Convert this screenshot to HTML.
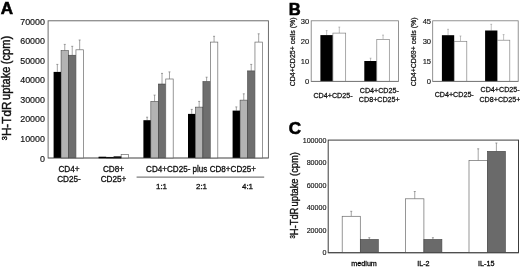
<!DOCTYPE html>
<html><head><meta charset="utf-8"><title>Figure</title>
<style>
html,body{margin:0;padding:0;background:#fff;}
body{width:520px;height:267px;overflow:hidden;}
svg{display:block;font-family:'Liberation Sans', sans-serif;transform:translateZ(0);will-change:transform;}
</style></head><body>
<svg width="520" height="267" viewBox="0 0 520 267">
<rect width="520" height="267" fill="#fff"/>
<text x="0.80" y="14.00" font-size="17" text-anchor="start" font-weight="bold" fill="#000" stroke="#000" stroke-width="0.61" >A</text>
<rect x="48.1" y="20.8" width="220.29999999999998" height="137.2" fill="none" stroke="#5c5c5c" stroke-width="0.9"/>
<text x="44.90" y="161.50" font-size="8.9" text-anchor="end" font-weight="normal" fill="#111" stroke="#111" stroke-width="0.16" >0</text>
<text x="44.90" y="141.95" font-size="8.9" text-anchor="end" font-weight="normal" fill="#111" stroke="#111" stroke-width="0.16" >10000</text>
<text x="44.90" y="122.40" font-size="8.9" text-anchor="end" font-weight="normal" fill="#111" stroke="#111" stroke-width="0.16" >20000</text>
<text x="44.90" y="102.85" font-size="8.9" text-anchor="end" font-weight="normal" fill="#111" stroke="#111" stroke-width="0.16" >30000</text>
<text x="44.90" y="83.30" font-size="8.9" text-anchor="end" font-weight="normal" fill="#111" stroke="#111" stroke-width="0.16" >40000</text>
<text x="44.90" y="63.75" font-size="8.9" text-anchor="end" font-weight="normal" fill="#111" stroke="#111" stroke-width="0.16" >50000</text>
<text x="44.90" y="44.20" font-size="8.9" text-anchor="end" font-weight="normal" fill="#111" stroke="#111" stroke-width="0.16" >60000</text>
<text x="44.90" y="24.65" font-size="8.9" text-anchor="end" font-weight="normal" fill="#111" stroke="#111" stroke-width="0.16" >70000</text>
<text transform="translate(10.50,140.20) rotate(-90) scale(1,1.04)" font-size="11.7" text-anchor="start" font-weight="normal" fill="#111" stroke="#111" stroke-width="0.42"><tspan font-size="7.4" dy="-3.4">3</tspan><tspan dy="3.4">H-TdR</tspan></text>
<text transform="translate(10.40,99.90) rotate(-90) scale(1,1.07)" font-size="11.1" text-anchor="start" font-weight="normal" fill="#111" stroke="#111" stroke-width="0.40">uptake</text>
<text transform="translate(10.40,64.20) rotate(-90) scale(1,1.07)" font-size="11.1" text-anchor="start" font-weight="normal" fill="#111" stroke="#111" stroke-width="0.40">(cpm)</text>
<line x1="57.33" y1="64.40" x2="57.33" y2="71.90" stroke="#666" stroke-width="0.6"/>
<line x1="56.33" y1="64.40" x2="58.33" y2="64.40" stroke="#666" stroke-width="0.6"/>
<rect x="53.60" y="71.90" width="7.45" height="86.10" fill="#000"/>
<line x1="64.78" y1="44.40" x2="64.78" y2="50.60" stroke="#666" stroke-width="0.6"/>
<line x1="63.78" y1="44.40" x2="65.78" y2="44.40" stroke="#666" stroke-width="0.6"/>
<rect x="61.05" y="50.60" width="7.45" height="107.40" fill="#b3b3b3" stroke="#333" stroke-width="0.5"/>
<line x1="72.22" y1="46.30" x2="72.22" y2="55.20" stroke="#666" stroke-width="0.6"/>
<line x1="71.22" y1="46.30" x2="73.22" y2="46.30" stroke="#666" stroke-width="0.6"/>
<rect x="68.50" y="55.20" width="7.45" height="102.80" fill="#6e6e6e" stroke="#333" stroke-width="0.5"/>
<line x1="79.67" y1="40.00" x2="79.67" y2="49.80" stroke="#666" stroke-width="0.6"/>
<line x1="78.67" y1="40.00" x2="80.67" y2="40.00" stroke="#666" stroke-width="0.6"/>
<rect x="75.95" y="49.80" width="7.45" height="108.20" fill="#fff" stroke="#6a6a6a" stroke-width="0.7"/>
<rect x="98.80" y="157.20" width="7.45" height="0.80" fill="#000"/>
<rect x="106.25" y="157.20" width="7.45" height="0.80" fill="#b3b3b3" stroke="#333" stroke-width="0.5"/>
<rect x="113.70" y="157.00" width="7.45" height="1.00" fill="#6e6e6e" stroke="#333" stroke-width="0.5"/>
<rect x="121.15" y="154.40" width="7.45" height="3.60" fill="#fff" stroke="#6a6a6a" stroke-width="0.7"/>
<line x1="147.12" y1="117.20" x2="147.12" y2="120.20" stroke="#666" stroke-width="0.6"/>
<line x1="146.12" y1="117.20" x2="148.12" y2="117.20" stroke="#666" stroke-width="0.6"/>
<rect x="143.40" y="120.20" width="7.45" height="37.80" fill="#000"/>
<line x1="154.57" y1="95.10" x2="154.57" y2="101.40" stroke="#666" stroke-width="0.6"/>
<line x1="153.57" y1="95.10" x2="155.57" y2="95.10" stroke="#666" stroke-width="0.6"/>
<rect x="150.85" y="101.40" width="7.45" height="56.60" fill="#b3b3b3" stroke="#333" stroke-width="0.5"/>
<line x1="162.03" y1="73.40" x2="162.03" y2="84.00" stroke="#666" stroke-width="0.6"/>
<line x1="161.03" y1="73.40" x2="163.03" y2="73.40" stroke="#666" stroke-width="0.6"/>
<rect x="158.30" y="84.00" width="7.45" height="74.00" fill="#6e6e6e" stroke="#333" stroke-width="0.5"/>
<line x1="169.47" y1="71.90" x2="169.47" y2="79.00" stroke="#666" stroke-width="0.6"/>
<line x1="168.47" y1="71.90" x2="170.47" y2="71.90" stroke="#666" stroke-width="0.6"/>
<rect x="165.75" y="79.00" width="7.45" height="79.00" fill="#fff" stroke="#6a6a6a" stroke-width="0.7"/>
<line x1="191.72" y1="109.40" x2="191.72" y2="113.90" stroke="#666" stroke-width="0.6"/>
<line x1="190.72" y1="109.40" x2="192.72" y2="109.40" stroke="#666" stroke-width="0.6"/>
<rect x="188.00" y="113.90" width="7.45" height="44.10" fill="#000"/>
<line x1="199.17" y1="101.40" x2="199.17" y2="107.10" stroke="#666" stroke-width="0.6"/>
<line x1="198.17" y1="101.40" x2="200.17" y2="101.40" stroke="#666" stroke-width="0.6"/>
<rect x="195.45" y="107.10" width="7.45" height="50.90" fill="#b3b3b3" stroke="#333" stroke-width="0.5"/>
<line x1="206.62" y1="77.20" x2="206.62" y2="81.50" stroke="#666" stroke-width="0.6"/>
<line x1="205.62" y1="77.20" x2="207.62" y2="77.20" stroke="#666" stroke-width="0.6"/>
<rect x="202.90" y="81.50" width="7.45" height="76.50" fill="#6e6e6e" stroke="#333" stroke-width="0.5"/>
<line x1="214.07" y1="36.30" x2="214.07" y2="42.10" stroke="#666" stroke-width="0.6"/>
<line x1="213.07" y1="36.30" x2="215.07" y2="36.30" stroke="#666" stroke-width="0.6"/>
<rect x="210.35" y="42.10" width="7.45" height="115.90" fill="#fff" stroke="#6a6a6a" stroke-width="0.7"/>
<line x1="236.32" y1="106.90" x2="236.32" y2="110.60" stroke="#666" stroke-width="0.6"/>
<line x1="235.32" y1="106.90" x2="237.32" y2="106.90" stroke="#666" stroke-width="0.6"/>
<rect x="232.60" y="110.60" width="7.45" height="47.40" fill="#000"/>
<line x1="243.77" y1="93.80" x2="243.77" y2="100.10" stroke="#666" stroke-width="0.6"/>
<line x1="242.77" y1="93.80" x2="244.77" y2="93.80" stroke="#666" stroke-width="0.6"/>
<rect x="240.05" y="100.10" width="7.45" height="57.90" fill="#b3b3b3" stroke="#333" stroke-width="0.5"/>
<line x1="251.22" y1="64.40" x2="251.22" y2="70.90" stroke="#666" stroke-width="0.6"/>
<line x1="250.22" y1="64.40" x2="252.22" y2="64.40" stroke="#666" stroke-width="0.6"/>
<rect x="247.50" y="70.90" width="7.45" height="87.10" fill="#6e6e6e" stroke="#333" stroke-width="0.5"/>
<line x1="258.68" y1="33.80" x2="258.68" y2="42.10" stroke="#666" stroke-width="0.6"/>
<line x1="257.68" y1="33.80" x2="259.68" y2="33.80" stroke="#666" stroke-width="0.6"/>
<rect x="254.95" y="42.10" width="7.45" height="115.90" fill="#fff" stroke="#6a6a6a" stroke-width="0.7"/>
<line x1="48.10" y1="158.00" x2="268.40" y2="158.00" stroke="#5c5c5c" stroke-width="0.5"/>
<rect x="98.60" y="156.70" width="7.60" height="1.60" fill="#000"/>
<rect x="106.20" y="157.00" width="7.60" height="1.30" fill="#111"/>
<rect x="113.80" y="156.40" width="7.50" height="1.90" fill="#111"/>
<text x="69.00" y="172.30" font-size="8.2" text-anchor="middle" font-weight="normal" fill="#111" stroke="#111" stroke-width="0.30" >CD4+</text>
<text x="69.00" y="181.60" font-size="8.2" text-anchor="middle" font-weight="normal" fill="#111" stroke="#111" stroke-width="0.30" >CD25-</text>
<text x="113.50" y="172.30" font-size="8.2" text-anchor="middle" font-weight="normal" fill="#111" stroke="#111" stroke-width="0.30" >CD8+</text>
<text x="113.50" y="181.60" font-size="8.2" text-anchor="middle" font-weight="normal" fill="#111" stroke="#111" stroke-width="0.30" >CD25+</text>
<text transform="translate(201,172.4) scale(1,1.14)" font-size="8.1" text-anchor="middle" fill="#111" stroke="#111" stroke-width="0.3">CD4+CD25- plus CD8+CD25+</text>
<line x1="136.60" y1="177.10" x2="264.20" y2="177.10" stroke="#333" stroke-width="0.8"/>
<text x="161.50" y="188.90" font-size="8.0" text-anchor="middle" font-weight="normal" fill="#111" stroke="#111" stroke-width="0.29" >1:1</text>
<text x="201.50" y="188.90" font-size="8.0" text-anchor="middle" font-weight="normal" fill="#111" stroke="#111" stroke-width="0.29" >2:1</text>
<text x="247.50" y="188.90" font-size="8.0" text-anchor="middle" font-weight="normal" fill="#111" stroke="#111" stroke-width="0.29" >4:1</text>
<text x="288.80" y="14.80" font-size="16.5" text-anchor="start" font-weight="bold" fill="#000" stroke="#000" stroke-width="0.59" >B</text>
<rect x="311.2" y="20.8" width="87.30000000000001" height="60.60000000000001" fill="none" stroke="#787878" stroke-width="0.8"/>
<text x="309.30" y="84.20" font-size="7.6" text-anchor="end" font-weight="normal" fill="#111" stroke="#111" stroke-width="0.14" >0</text>
<text x="309.30" y="64.00" font-size="7.6" text-anchor="end" font-weight="normal" fill="#111" stroke="#111" stroke-width="0.14" >10</text>
<text x="309.30" y="43.80" font-size="7.6" text-anchor="end" font-weight="normal" fill="#111" stroke="#111" stroke-width="0.14" >20</text>
<text x="309.30" y="23.60" font-size="7.6" text-anchor="end" font-weight="normal" fill="#111" stroke="#111" stroke-width="0.14" >30</text>
<text transform="translate(294.90,51.90) rotate(-90) scale(1,1)" font-size="7" text-anchor="middle" font-weight="normal" fill="#111" stroke="#111" stroke-width="0.25">CD4+CD25+ cells (%)</text>
<line x1="326.65" y1="30.60" x2="326.65" y2="35.10" stroke="#8c8c8c" stroke-width="0.55"/>
<line x1="325.75" y1="30.60" x2="327.55" y2="30.60" stroke="#8c8c8c" stroke-width="0.55"/>
<rect x="320.40" y="35.10" width="12.50" height="46.30" fill="#000"/>
<line x1="339.30" y1="27.10" x2="339.30" y2="33.10" stroke="#8c8c8c" stroke-width="0.55"/>
<line x1="338.40" y1="27.10" x2="340.20" y2="27.10" stroke="#8c8c8c" stroke-width="0.55"/>
<rect x="332.90" y="33.10" width="12.80" height="48.30" fill="#fff" stroke="#7c7c7c" stroke-width="0.65"/>
<line x1="370.55" y1="58.20" x2="370.55" y2="61.00" stroke="#8c8c8c" stroke-width="0.55"/>
<line x1="369.65" y1="58.20" x2="371.45" y2="58.20" stroke="#8c8c8c" stroke-width="0.55"/>
<rect x="364.30" y="61.00" width="12.50" height="20.40" fill="#000"/>
<line x1="383.05" y1="35.10" x2="383.05" y2="39.40" stroke="#8c8c8c" stroke-width="0.55"/>
<line x1="382.15" y1="35.10" x2="383.95" y2="35.10" stroke="#8c8c8c" stroke-width="0.55"/>
<rect x="376.80" y="39.40" width="12.50" height="42.00" fill="#fff" stroke="#7c7c7c" stroke-width="0.65"/>
<line x1="311.20" y1="81.40" x2="398.50" y2="81.40" stroke="#787878" stroke-width="0.9"/>
<text x="333.00" y="97.50" font-size="7.15" text-anchor="middle" font-weight="normal" fill="#111" stroke="#111" stroke-width="0.26" >CD4+CD25-</text>
<text x="379.30" y="92.70" font-size="7.15" text-anchor="middle" font-weight="normal" fill="#111" stroke="#111" stroke-width="0.26" >CD4+CD25-</text>
<text x="379.30" y="101.70" font-size="7.15" text-anchor="middle" font-weight="normal" fill="#111" stroke="#111" stroke-width="0.26" >CD8+CD25+</text>
<rect x="432.7" y="20.8" width="85.50000000000006" height="60.60000000000001" fill="none" stroke="#787878" stroke-width="0.8"/>
<text x="431.10" y="84.20" font-size="7.6" text-anchor="end" font-weight="normal" fill="#111" stroke="#111" stroke-width="0.14" >0</text>
<text x="431.10" y="64.00" font-size="7.6" text-anchor="end" font-weight="normal" fill="#111" stroke="#111" stroke-width="0.14" >15</text>
<text x="431.10" y="43.80" font-size="7.6" text-anchor="end" font-weight="normal" fill="#111" stroke="#111" stroke-width="0.14" >30</text>
<text x="431.10" y="23.60" font-size="7.6" text-anchor="end" font-weight="normal" fill="#111" stroke="#111" stroke-width="0.14" >45</text>
<text transform="translate(416.10,51.90) rotate(-90) scale(1,1)" font-size="7" text-anchor="middle" font-weight="normal" fill="#111" stroke="#111" stroke-width="0.25">CD4+CD69+ cells (%)</text>
<line x1="448.05" y1="29.30" x2="448.05" y2="35.20" stroke="#8c8c8c" stroke-width="0.55"/>
<line x1="447.15" y1="29.30" x2="448.95" y2="29.30" stroke="#8c8c8c" stroke-width="0.55"/>
<rect x="441.90" y="35.20" width="12.30" height="46.20" fill="#000"/>
<line x1="460.50" y1="36.00" x2="460.50" y2="41.30" stroke="#8c8c8c" stroke-width="0.55"/>
<line x1="459.60" y1="36.00" x2="461.40" y2="36.00" stroke="#8c8c8c" stroke-width="0.55"/>
<rect x="454.20" y="41.30" width="12.60" height="40.10" fill="#fff" stroke="#7c7c7c" stroke-width="0.65"/>
<line x1="491.25" y1="24.30" x2="491.25" y2="30.50" stroke="#8c8c8c" stroke-width="0.55"/>
<line x1="490.35" y1="24.30" x2="492.15" y2="24.30" stroke="#8c8c8c" stroke-width="0.55"/>
<rect x="485.10" y="30.50" width="12.30" height="50.90" fill="#000"/>
<line x1="503.60" y1="34.60" x2="503.60" y2="40.20" stroke="#8c8c8c" stroke-width="0.55"/>
<line x1="502.70" y1="34.60" x2="504.50" y2="34.60" stroke="#8c8c8c" stroke-width="0.55"/>
<rect x="497.40" y="40.20" width="12.40" height="41.20" fill="#fff" stroke="#7c7c7c" stroke-width="0.65"/>
<line x1="432.70" y1="81.40" x2="518.20" y2="81.40" stroke="#787878" stroke-width="0.9"/>
<text x="454.20" y="97.00" font-size="7.15" text-anchor="middle" font-weight="normal" fill="#111" stroke="#111" stroke-width="0.26" >CD4+CD25-</text>
<text x="500.10" y="92.30" font-size="7.15" text-anchor="middle" font-weight="normal" fill="#111" stroke="#111" stroke-width="0.26" >CD4+CD25-</text>
<text x="499.90" y="101.80" font-size="7.15" text-anchor="middle" font-weight="normal" fill="#111" stroke="#111" stroke-width="0.26" >CD8+CD25+</text>
<text x="288.80" y="134.00" font-size="17" text-anchor="start" font-weight="bold" fill="#000" stroke="#000" stroke-width="0.61" >C</text>
<rect x="328.2" y="140.1" width="190.3" height="112.6" fill="none" stroke="#3c3c3c" stroke-width="1"/>
<text x="326.50" y="255.30" font-size="7.15" text-anchor="end" font-weight="normal" fill="#111" stroke="#111" stroke-width="0.14" >0</text>
<text x="326.50" y="232.78" font-size="7.15" text-anchor="end" font-weight="normal" fill="#111" stroke="#111" stroke-width="0.14" >20000</text>
<text x="326.50" y="210.26" font-size="7.15" text-anchor="end" font-weight="normal" fill="#111" stroke="#111" stroke-width="0.14" >40000</text>
<text x="326.50" y="187.74" font-size="7.15" text-anchor="end" font-weight="normal" fill="#111" stroke="#111" stroke-width="0.14" >60000</text>
<text x="326.50" y="165.22" font-size="7.15" text-anchor="end" font-weight="normal" fill="#111" stroke="#111" stroke-width="0.14" >80000</text>
<text x="326.50" y="142.70" font-size="7.15" text-anchor="end" font-weight="normal" fill="#111" stroke="#111" stroke-width="0.14" >100000</text>
<text transform="translate(297.50,238.60) rotate(-90) scale(1,1.1)" font-size="9.4" text-anchor="start" font-weight="normal" fill="#111" stroke="#111" stroke-width="0.34"><tspan font-size="6" dy="-2.7">3</tspan><tspan dy="2.7">H-TdR</tspan></text>
<text transform="translate(297.50,152.20) rotate(-90) scale(1,1.1)" font-size="9.3" text-anchor="end" font-weight="normal" fill="#111" stroke="#111" stroke-width="0.33">uptake (cpm)</text>
<line x1="351.25" y1="211.30" x2="351.25" y2="216.30" stroke="#666" stroke-width="0.6"/>
<line x1="350.25" y1="211.30" x2="352.25" y2="211.30" stroke="#666" stroke-width="0.6"/>
<rect x="342.20" y="216.30" width="18.10" height="36.40" fill="#fff" stroke="#6a6a6a" stroke-width="0.7"/>
<line x1="369.30" y1="237.70" x2="369.30" y2="239.40" stroke="#666" stroke-width="0.6"/>
<line x1="368.30" y1="237.70" x2="370.30" y2="237.70" stroke="#666" stroke-width="0.6"/>
<rect x="360.30" y="239.40" width="18.00" height="13.30" fill="#6a6a6a" stroke="#444" stroke-width="0.6"/>
<line x1="414.75" y1="191.50" x2="414.75" y2="198.80" stroke="#666" stroke-width="0.6"/>
<line x1="413.75" y1="191.50" x2="415.75" y2="191.50" stroke="#666" stroke-width="0.6"/>
<rect x="405.60" y="198.80" width="18.30" height="53.90" fill="#fff" stroke="#6a6a6a" stroke-width="0.7"/>
<line x1="432.90" y1="237.70" x2="432.90" y2="239.40" stroke="#666" stroke-width="0.6"/>
<line x1="431.90" y1="237.70" x2="433.90" y2="237.70" stroke="#666" stroke-width="0.6"/>
<rect x="423.90" y="239.40" width="18.00" height="13.30" fill="#6a6a6a" stroke="#444" stroke-width="0.6"/>
<line x1="478.20" y1="148.80" x2="478.20" y2="160.60" stroke="#666" stroke-width="0.6"/>
<line x1="477.20" y1="148.80" x2="479.20" y2="148.80" stroke="#666" stroke-width="0.6"/>
<rect x="469.00" y="160.60" width="18.40" height="92.10" fill="#fff" stroke="#6a6a6a" stroke-width="0.7"/>
<line x1="496.40" y1="143.00" x2="496.40" y2="151.30" stroke="#666" stroke-width="0.6"/>
<line x1="495.40" y1="143.00" x2="497.40" y2="143.00" stroke="#666" stroke-width="0.6"/>
<rect x="487.40" y="151.30" width="18.00" height="101.40" fill="#6a6a6a" stroke="#444" stroke-width="0.6"/>
<line x1="328.20" y1="252.70" x2="518.50" y2="252.70" stroke="#4a4a4a" stroke-width="1"/>
<text x="364.10" y="265.90" font-size="7.2" text-anchor="middle" font-weight="normal" fill="#000" stroke="#000" stroke-width="0.26" >medium</text>
<text x="423.40" y="265.90" font-size="7.2" text-anchor="middle" font-weight="normal" fill="#000" stroke="#000" stroke-width="0.26" >IL-2</text>
<text x="486.30" y="265.90" font-size="7.2" text-anchor="middle" font-weight="normal" fill="#000" stroke="#000" stroke-width="0.26" >IL-15</text>
</svg>
</body></html>
